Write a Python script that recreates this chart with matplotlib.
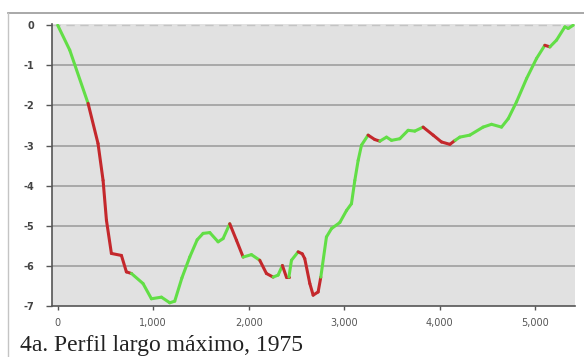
import numpy as np
import matplotlib.pyplot as plt
from matplotlib.collections import LineCollection
from matplotlib.ticker import FuncFormatter
from matplotlib.lines import Line2D

plt.rcParams['axes.unicode_minus'] = False

# distance along the river (m) and depth (m)
dist = [0, 126, 318, 422, 475, 510, 562, 667, 719, 772, 893, 981, 1086, 1173,
        1225, 1300, 1382, 1460, 1522, 1592, 1679, 1731, 1801, 1871, 1941, 2028,
        2115, 2185, 2255, 2307, 2352, 2394, 2420, 2447, 2517, 2560, 2586, 2639,
        2674, 2726, 2754, 2813, 2866, 2953, 3023, 3075, 3110, 3145, 3180, 3249,
        3319, 3372, 3442, 3494, 3581, 3668, 3738, 3825, 3930, 4017, 4105, 4160,
        4209, 4314, 4453, 4541, 4646, 4716, 4803, 4908, 5012, 5099, 5152, 5222,
        5309, 5344, 5396]
depth = [0.0, -0.62, -1.95, -2.95, -3.87, -4.86, -5.69, -5.74, -6.15, -6.19,
         -6.44, -6.82, -6.78, -6.92, -6.88, -6.3, -5.78, -5.35, -5.19, -5.17,
         -5.40, -5.32, -4.95, -5.36, -5.78, -5.72, -5.86, -6.19, -6.28, -6.23,
         -5.99, -6.28, -6.28, -5.86, -5.65, -5.70, -5.82, -6.44, -6.73, -6.65,
         -6.28, -5.28, -5.07, -4.92, -4.62, -4.45, -3.87, -3.37, -2.99, -2.74,
         -2.85, -2.89, -2.79, -2.87, -2.83, -2.62, -2.64, -2.54, -2.74, -2.91,
         -2.97, -2.87, -2.79, -2.74, -2.54, -2.47, -2.54, -2.33, -1.91, -1.33,
         -0.83, -0.50, -0.54, -0.37, -0.04, -0.08, 0.0]

# stretches drawn in red
red_spans = [(318, 772), (1801, 1941), (2115, 2255), (2352, 2420),
             (2517, 2754), (3249, 3372), (3825, 4160), (5099, 5152)]

x = np.array(dist)
y = np.array(depth)
pts = np.column_stack([x, y]).reshape(-1, 1, 2)
segs = np.concatenate([pts[:-1], pts[1:]], axis=1)
mid = (x[:-1] + x[1:]) / 2
colors = []
for m in mid:
    red = any(a <= m <= b for a, b in red_spans)
    colors.append('#c4282c' if red else '#62de46')

fig = plt.figure(figsize=(5.84, 3.57), dpi=100)
ax = fig.add_axes([0.089, 0.1429, 0.8956, 0.7898])
ax.set_facecolor('#e1e1e1')

lc = LineCollection(segs, colors=colors, linewidths=2.2, capstyle='round',
                    joinstyle='round', zorder=3)
ax.add_collection(lc)

ax.set_xlim(-60, 5415)
ax.set_ylim(-7, 0.03)
ax.set_yticks(range(-7, 1))
ax.set_xticks(range(0, 5001, 1000))
ax.xaxis.set_major_formatter(FuncFormatter(lambda v, p: f'{int(v):,}'))

for v in range(-6, 0):
    ax.axhline(v, color='#a8a8a8', lw=1.4, zorder=1)
ax.axhline(0, color='#c4c4c4', lw=1.0, ls=(0, (6, 4)), zorder=1)

for s in ['top', 'right']:
    ax.spines[s].set_visible(False)
for s in ['left', 'bottom']:
    ax.spines[s].set_color('#555555')
    ax.spines[s].set_linewidth(1.2)

ax.tick_params(axis='y', direction='out', length=4, width=1, color='#555555',
               labelsize=7, labelcolor='#444444', pad=9)
ax.tick_params(axis='x', direction='out', length=3, width=1, color='#555555',
               labelsize=7, labelcolor='#555555', pad=6)
for t in ax.get_yticklabels():
    t.set_fontweight('bold')

# screenshot frame lines
fig.add_artist(Line2D([8 / 584, 1], [1 - 13 / 357] * 2, color='#999999', lw=1.2))
fig.add_artist(Line2D([8 / 584] * 2, [0, 1 - 13 / 357],
                      color='#c4c4c4', lw=1.0))

fig.text(20 / 584, 1 - 351 / 357, '4a. Perfil largo máximo, 1975',
         family='Liberation Serif', fontsize=17, color='#222222',
         ha='left', va='baseline')

fig.savefig('out.png', dpi=100)
